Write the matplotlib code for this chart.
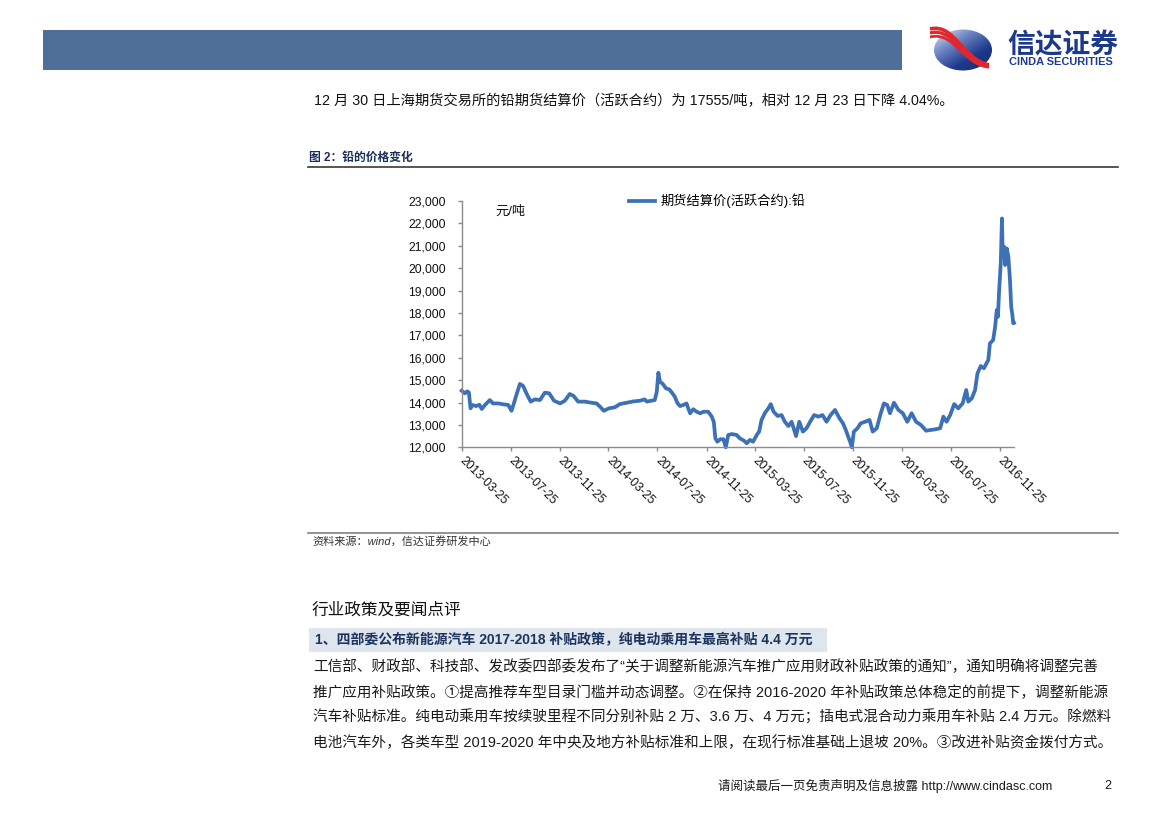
import numpy as np
import pandas as pd
import matplotlib
matplotlib.use('Agg')
import matplotlib.pyplot as plt
from matplotlib.patches import Rectangle, Ellipse, PathPatch
from matplotlib.path import Path
from matplotlib.colors import LinearSegmentedColormap
from matplotlib.font_manager import FontProperties

plt.rcParams['font.family'] = ['Liberation Sans', 'Noto Sans CJK SC']

W, H = 1169, 827

# lead futures settlement price (yuan / tonne)
dates = [
    '2013-03-25', '2013-04-02', '2013-04-08', '2013-04-12', '2013-04-16', '2013-04-21',
    '2013-04-30', '2013-05-08', '2013-05-14', '2013-05-22', '2013-06-03', '2013-06-11',
    '2013-06-24', '2013-07-06', '2013-07-19', '2013-07-27', '2013-08-02', '2013-08-09',
    '2013-08-17', '2013-08-25', '2013-09-03', '2013-09-13', '2013-09-23', '2013-10-06',
    '2013-10-18', '2013-10-29', '2013-11-10', '2013-11-25', '2013-12-07', '2013-12-19',
    '2013-12-29', '2014-01-09', '2014-01-26', '2014-02-11', '2014-02-24', '2014-03-06',
    '2014-03-14', '2014-03-27', '2014-04-11', '2014-04-23', '2014-05-10', '2014-05-27',
    '2014-06-12', '2014-06-24', '2014-06-29', '2014-07-11', '2014-07-19', '2014-07-24',
    '2014-07-28', '2014-08-01', '2014-08-08', '2014-08-16', '2014-08-24', '2014-09-01',
    '2014-09-07', '2014-09-13', '2014-09-20', '2014-09-28', '2014-10-06', '2014-10-15',
    '2014-10-23', '2014-10-31', '2014-11-09', '2014-11-18', '2014-11-29', '2014-12-08',
    '2014-12-13', '2014-12-17', '2014-12-22', '2014-12-29', '2015-01-06', '2015-01-12',
    '2015-01-18', '2015-01-27', '2015-02-08', '2015-02-16', '2015-02-26', '2015-03-05',
    '2015-03-13', '2015-03-21', '2015-03-30', '2015-04-05', '2015-04-11', '2015-04-20',
    '2015-04-28', '2015-05-04', '2015-05-11', '2015-05-21', '2015-05-31', '2015-06-08',
    '2015-06-17', '2015-06-25', '2015-07-06', '2015-07-14', '2015-07-23', '2015-08-01',
    '2015-08-10', '2015-08-20', '2015-08-31', '2015-09-10', '2015-09-20', '2015-09-30',
    '2015-10-11', '2015-10-22', '2015-10-31', '2015-11-07', '2015-11-13', '2015-11-19',
    '2015-11-22', '2015-11-27', '2015-12-06', '2015-12-14', '2015-12-25', '2016-01-05',
    '2016-01-13', '2016-01-23', '2016-02-02', '2016-02-10', '2016-02-18', '2016-02-25',
    '2016-03-06', '2016-03-17', '2016-03-28', '2016-04-08', '2016-04-19', '2016-04-30',
    '2016-05-12', '2016-05-25', '2016-06-04', '2016-06-16', '2016-06-29', '2016-07-07',
    '2016-07-15', '2016-07-24', '2016-08-03', '2016-08-13', '2016-08-24', '2016-09-02',
    '2016-09-07', '2016-09-16', '2016-09-24', '2016-09-30', '2016-10-08', '2016-10-16',
    '2016-10-27', '2016-10-31', '2016-11-08', '2016-11-13', '2016-11-17', '2016-11-20',
    '2016-11-23', '2016-11-27', '2016-11-30', '2016-12-02', '2016-12-05', '2016-12-08',
    '2016-12-12', '2016-12-16', '2016-12-20', '2016-12-23', '2016-12-26', '2016-12-28',
    '2016-12-30',
]
prices = [
    14530, 14410, 14500, 14440, 13740, 13890,
    13840, 13900, 13710, 13890, 14110, 13960,
    13960, 13920, 13890, 13630, 13960, 14380,
    14830, 14740, 14380, 14040, 14140, 14110,
    14440, 14410, 14080, 13960, 14080, 14380,
    14290, 14040, 14040, 13990, 13960, 13790,
    13630, 13740, 13790, 13930, 13990, 14050,
    14080, 14140, 14040, 14080, 14110, 14480,
    15330, 14930, 14830, 14630, 14590, 14410,
    14260, 13990, 13840, 13890, 13960, 13520,
    13700, 13590, 13520, 13590, 13590, 13370,
    13140, 12400, 12250, 12360, 12360, 12000,
    12550, 12590, 12550, 12400, 12300, 12180,
    12330, 12250, 12550, 12700, 13220, 13550,
    13740, 13930, 13590, 13400, 13440, 13140,
    12950, 13140, 12500, 13140, 12700, 12850,
    13140, 13440, 13370, 13440, 13140, 13440,
    13670, 13300, 13070, 12770, 12470, 12180,
    12000, 12700, 12850, 13070, 13140, 13220,
    12700, 12850, 13520, 13960, 13890, 13520,
    13990, 13670, 13520, 13140, 13520, 13140,
    13000, 12740, 12770, 12800, 12850, 13370,
    13140, 13440, 13930, 13740, 13960, 14560,
    14040, 14190, 14560, 15300, 15630, 15530,
    15900, 16640, 16790, 17380, 18130, 17830,
    19020, 20210, 22220, 20510, 20960, 20140,
    20880, 20510, 19470, 18290, 17900, 17540,
    17555,
]

x_tick_labels = ['2013-03-25', '2013-07-25', '2013-11-25', '2014-03-25', '2014-07-25',
                 '2014-11-25', '2015-03-25', '2015-07-25', '2015-11-25', '2016-03-25',
                 '2016-07-25', '2016-11-25']
x_start, x_end = '2013-03-25', '2016-12-30'
y_ticks = list(range(12000, 23001, 1000))

series_name = '期货结算价(活跃合约):铅'
unit_label = '元/吨'
intro = '12 月 30 日上海期货交易所的铅期货结算价（活跃合约）为 17555/吨，相对 12 月 23 日下降 4.04%。'
fig_title = '图 2：铅的价格变化'
source = '资料来源：wind，信达证券研发中心'
section = '行业政策及要闻点评'
headline = '1、四部委公布新能源汽车 2017-2018 补贴政策，纯电动乘用车最高补贴 4.4 万元'
body = [
    '工信部、财政部、科技部、发改委四部委发布了“关于调整新能源汽车推广应用财政补贴政策的通知”，通知明确将调整完善',
    '推广应用补贴政策。①提高推荐车型目录门槛并动态调整。②在保持 2016-2020 年补贴政策总体稳定的前提下，调整新能源',
    '汽车补贴标准。纯电动乘用车按续驶里程不同分别补贴 2 万、3.6 万、4 万元；插电式混合动力乘用车补贴 2.4 万元。除燃料',
    '电池汽车外，各类车型 2019-2020 年中央及地方补贴标准和上限，在现行标准基础上退坡 20%。③改进补贴资金拨付方式。',
]
footer = '请阅读最后一页免责声明及信息披露 http://www.cindasc.com'
page_no = '2'

line_blue = '#3D71B7'
navy = '#1C3A8C'

fig = plt.figure(figsize=(W / 100, H / 100), dpi=100)

# page layer in pixel coordinates
page = fig.add_axes([0, 0, 1, 1], zorder=0)
page.set_xlim(0, W)
page.set_ylim(H, 0)
page.axis('off')

page.add_patch(Rectangle((43, 30), 859, 40, color='#4D6F98', lw=0))

# logo
ell = Ellipse((963, 50), 58, 41, transform=page.transData)
gx, gy = np.meshgrid(np.linspace(0, 1, 60), np.linspace(0, 1, 42))
grad = (gx * 0.6 + gy * 0.7)
cmap = LinearSegmentedColormap.from_list('logo', ['#E4EAF7', '#6E86C4', '#1E3A8C', '#142B70'])
im = page.imshow(grad, extent=(934, 992, 71, 29), cmap=cmap, aspect='auto', zorder=2)
im.set_clip_path(ell)
for dy, lw in [(-4, 2.6), (0, 2.3), (4, 2.0)]:
    verts = [(930, 33 + dy), (955, 27 + dy), (962, 62 + dy * 0.6), (989, 66 + dy * 0.3)]
    p = Path(verts, [Path.MOVETO, Path.CURVE4, Path.CURVE4, Path.CURVE4])
    page.add_patch(PathPatch(p, fill=False, edgecolor='#E1262D', lw=lw, zorder=3,
                             capstyle='butt'))
page.set_xlim(0, W)
page.set_ylim(H, 0)
page.text(1007, 45, '信达证券', fontsize=20, fontweight='bold', color=navy,
          family=['Noto Sans CJK SC'], ha='left', va='center')
page.text(1009, 62, 'CINDA SECURITIES', fontsize=7.9, fontweight='bold', color=navy,
          ha='left', va='center')

page.text(314, 101, intro, fontsize=10.3, color='#111111', ha='left', va='center')
page.text(309, 158, fig_title, fontsize=8.5, fontweight='bold', color='#1A2E57',
          ha='left', va='center')
page.plot([308, 1118], [167, 167], color='#3A3A3A', lw=1.2)
page.plot([308, 1118], [533, 533], color='#7F7F7F', lw=1.2)
page.text(312, 541, source, fontsize=8, style='italic', color='#333333',
          ha='left', va='center')

page.text(312, 610, section, fontsize=12, color='#111111', ha='left', va='center')
page.add_patch(Rectangle((309, 628), 518, 24, color='#DFE5EC', lw=0))
page.text(315, 640, headline, fontsize=10, fontweight='bold', color='#1B3460',
          ha='left', va='center')
for i, line in enumerate(body):
    page.text(313, 667 + i * 25.3, line, fontsize=10.5, color='#1A1A1A',
              ha='left', va='center')
page.text(1052, 786, footer, fontsize=9, color='#1A1A1A', ha='right', va='center')
page.text(1111, 786, page_no, fontsize=9, color='#1A1A1A', ha='right', va='center')

# chart
ax = fig.add_axes([461.7 / W, 1 - 447.3 / H, (1014 - 461.7) / W, (447.3 - 201) / H], zorder=1)
ax.set_facecolor('none')
ax.plot(pd.to_datetime(dates), prices, color=line_blue, lw=2.7,
        solid_joinstyle='round', clip_on=False, label=series_name)
ax.set_xlim(pd.Timestamp(x_start), pd.Timestamp(x_end))
ax.set_ylim(y_ticks[0], y_ticks[-1])
ax.set_yticks(y_ticks)
ax.set_yticklabels([f'{v:,}' for v in y_ticks])
ax.set_xticks(pd.to_datetime(x_tick_labels))
ax.set_xticklabels(x_tick_labels)

for s in ['top', 'right']:
    ax.spines[s].set_visible(False)
for s in ['left', 'bottom']:
    ax.spines[s].set_color('#8C8C8C')
    ax.spines[s].set_linewidth(1.0)
ax.tick_params(axis='both', colors='#8C8C8C', labelcolor='#111111', length=3,
               width=1.0, labelsize=8.7)
ax.tick_params(axis='y', pad=8.5)
ax.tick_params(axis='x', pad=5)
plt.setp(ax.get_xticklabels(), rotation=-45, ha='left', va='center',
         rotation_mode='anchor')

ax.legend(loc='center left', bbox_to_anchor=(629 / W, 1 - 201 / H),
          bbox_transform=fig.transFigure, frameon=False, borderpad=0, borderaxespad=0,
          handlelength=2.0, handletextpad=0.4, prop=FontProperties(size=9.5))
fig.text(495 / W, 1 - 212 / H, unit_label, fontsize=9.5, color='#111111',
         ha='left', va='center')

fig.savefig('out.png', dpi=100)
